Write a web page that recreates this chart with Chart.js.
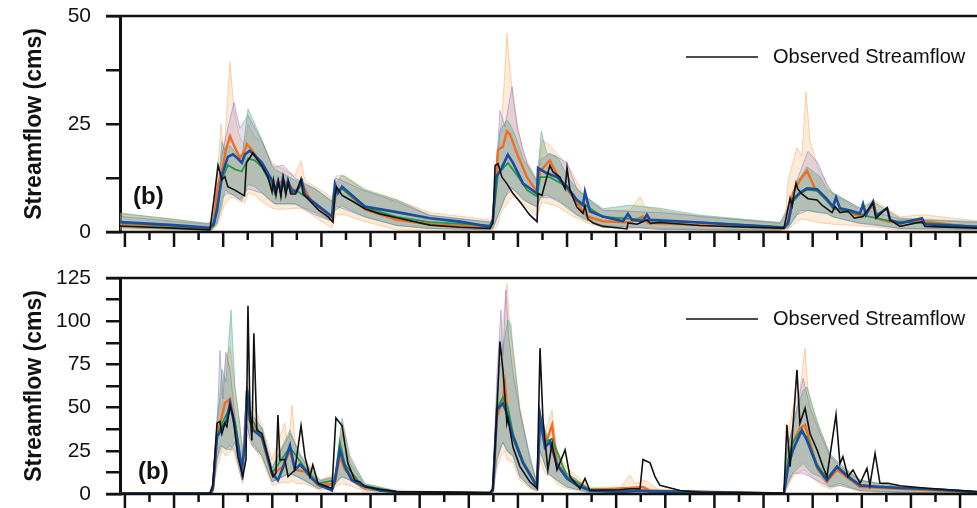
<!DOCTYPE html>
<html>
<head>
<meta charset="utf-8">
<script src="https://cdn.jsdelivr.net/npm/chart.js@4.4.1/dist/chart.umd.min.js"></script>
<style>
  html, body { margin: 0; padding: 0; background: #fff; }
  #wrap { position: relative; width: 977px; height: 508px; overflow: hidden; }
  .panel { position: absolute; left: 0; width: 977px; }
  #top-panel { top: 0; height: 254px; }
  #bottom-panel { top: 262px; height: 246px; }
</style>
</head>
<body>
<div id="wrap">
  <div class="panel" id="top-panel"><canvas id="top-chart"></canvas></div>
  <div class="panel" id="bottom-panel"><canvas id="bottom-chart"></canvas></div>
</div>
<script>
// x is in months from the first tick, 35 monthly ticks (every other one long)
const monthTicks = 35;
const xMin = -0.2;
const xMax = 34.69;

// ---------- top panel (0 - 50 cms) ----------
// lines: [month, cms]
const obsTop = [[-0.2,1.4],[2,0.9],[3.46,0.5],[3.62,7.4],[3.79,15.4],[3.95,12.1],[4.07,12.8],[4.19,10.5],[4.48,9.7],[4.80,8.6],[4.87,8.4],[4.95,16],[5.21,18.3],[5.58,15.2],[5.82,12.8],[5.99,9.3],[6.05,12],[6.15,8.5],[6.25,11.8],[6.35,8.2],[6.45,12.5],[6.55,8.6],[6.65,11.5],[6.75,8.8],[6.95,8.8],[7.17,12.3],[7.25,8.8],[7.40,8.0],[7.61,6.7],[7.9,5.0],[8.27,3.5],[8.47,2.3],[8.55,8.5],[8.62,10.4],[8.84,8.5],[9.3,7.0],[9.77,5.4],[10.38,4.2],[11.07,3.3],[12.42,1.6],[13.64,1.1],[14.86,0.8],[14.98,2],[15.07,15.4],[15.19,15.8],[15.35,12.7],[15.55,11.2],[15.80,8.9],[16.08,7.0],[16.49,3.9],[16.78,2.4],[16.82,8.9],[16.98,8.5],[17.30,15.4],[17.43,13.9],[17.71,12.7],[17.92,10.0],[18.00,14.9],[18.12,9.7],[18.40,5.8],[18.65,4.3],[18.73,6.0],[18.85,3.0],[19.06,2.1],[19.46,1.3],[20.03,1.0],[20.44,0.7],[20.48,2.1],[20.85,1.8],[21.25,2.8],[21.40,2.0],[21.78,2.2],[23.41,1.5],[25.45,1.1],[26.83,0.9],[27.08,7.8],[27.16,6.1],[27.32,11.3],[27.40,9.9],[27.56,8.8],[27.81,7.7],[28.18,7.4],[28.38,6.2],[28.79,4.5],[28.91,5.9],[29.11,4.5],[29.44,4.8],[29.70,3.2],[30.05,3.6],[30.46,6.8],[30.58,3.2],[31.03,5.6],[31.15,2.8],[31.56,1.3],[32.45,2.4],[32.57,1.3],[34.69,0.9]];
const blueTop = [[-0.2,2.3],[2,1.6],[3.46,1.0],[3.62,2],[3.75,5],[3.95,13.1],[4.19,17.4],[4.40,18],[4.60,17],[4.76,16],[4.89,18],[5.09,18.8],[5.29,17.7],[5.58,16],[5.82,13.6],[5.99,11.9],[6.11,9.3],[6.23,11.7],[6.35,9.3],[6.43,12.4],[6.55,9.6],[6.64,11.9],[6.80,9.3],[7.0,9.5],[7.21,11.7],[7.33,8.6],[7.61,7.2],[8.43,3.6],[8.55,11],[8.67,9],[8.84,10.5],[9.77,5.9],[11.07,4.6],[12.42,3.2],[13.64,2.4],[14.86,1.2],[14.98,2.8],[15.11,12.7],[15.35,14.9],[15.59,17.9],[15.80,16],[16.21,11.2],[16.78,8.9],[16.82,14.8],[17.18,13.6],[17.59,12.7],[18.0,10.5],[18.40,7.4],[18.65,6.2],[18.73,9.3],[18.93,4.8],[19.46,3.6],[20.28,2.5],[20.48,4.2],[20.64,2.8],[21.09,2.5],[21.25,4.0],[21.38,2.8],[21.78,2.7],[23.41,2.2],[25.45,1.5],[26.83,1.0],[27.0,2],[27.20,7.6],[27.48,9.1],[27.77,10.1],[28.18,9.9],[28.58,7.6],[28.83,5.9],[28.95,8.0],[29.11,5.5],[29.52,5],[29.93,4.3],[30.05,6.5],[30.17,4],[30.46,7.0],[30.58,3.8],[31.03,5.5],[31.15,2.8],[31.56,2.0],[32.45,3.2],[32.57,1.8],[33.59,1.5],[34.69,1.2]];
const orangeTop = [[-0.2,1.9],[2,1.3],[3.46,0.8],[3.62,1.5],[3.71,8],[3.79,11],[3.95,14],[4.11,19],[4.28,22.2],[4.44,20],[4.68,17.2],[4.85,18.5],[4.97,20.3],[5.17,19],[5.37,17.2],[5.58,15.5],[5.82,13],[5.99,11],[6.11,9.5],[6.23,11.2],[6.43,11.8],[6.64,11.2],[6.92,9.5],[7.21,11],[7.61,7.0],[8.43,3.2],[8.59,9],[8.84,10.2],[9.77,5.2],[11.07,2.8],[12.42,1.8],[14.86,1.0],[14.98,2.5],[15.19,19],[15.39,19.8],[15.55,23.3],[15.68,22.6],[15.96,18.2],[16.37,12.7],[16.78,9.3],[16.90,14],[17.30,16.6],[17.71,11.9],[18.12,9],[18.81,3.6],[19.46,2.5],[20.56,2.2],[21.09,3.6],[21.3,2.0],[21.78,2.0],[23.41,1.6],[26.83,0.8],[27.0,3],[27.20,9],[27.48,12],[27.77,14.2],[28.09,10.1],[28.58,7.5],[28.83,5.5],[29.52,4.5],[29.93,3.5],[30.46,6],[30.6,3.2],[31.15,2.3],[32.45,2.5],[34.69,1.0]];
const greenTop = [[-0.2,2.1],[2,1.4],[3.46,0.9],[3.62,1.5],[3.75,6],[3.95,12.1],[4.19,15.5],[4.48,14.5],[4.76,14],[5.01,17],[5.29,16.6],[5.58,15],[5.82,12.5],[5.99,10.5],[6.5,10.5],[7.0,9.5],[7.61,7.2],[8.43,3.5],[8.59,9],[8.84,10],[9.77,5.7],[11.07,3.5],[12.42,2.3],[14.86,1.5],[14.98,2.6],[15.19,13.4],[15.59,16],[15.96,13.2],[16.37,9.7],[16.78,8.2],[16.90,12.7],[17.30,12.7],[17.83,11],[18.40,7.5],[19.46,3.5],[21.78,2.6],[23.41,2.2],[26.83,1.2],[27.0,2.5],[27.20,7],[27.48,8.8],[27.77,9.8],[28.18,9.5],[28.58,7.2],[28.83,5.5],[29.93,4.0],[31.15,2.5],[34.69,1.3]];
// bands: [month, low, high]
const peachBandTop = [[-0.2,0.5,4.2],[2.0,0.3,3.0],[3.34,0.2,2.0],[3.54,0.3,2.5],[3.75,1.5,12],[3.91,4,25],[4.03,6,18],[4.28,8,39.4],[4.44,8,28],[4.68,7,22],[4.89,6.8,20],[5.01,9,25],[5.29,8.5,22],[5.58,7,21],[5.99,5.5,16],[6.31,5.2,15],[6.92,5.5,13],[7.17,5.5,16.5],[7.33,5,12],[7.74,3.5,10.5],[8.43,0.9,8],[8.59,4,13],[8.96,4,13],[9.77,2.4,10],[11.07,0.5,7.5],[12.42,0.3,4.5],[14.86,0.2,2.8],[14.98,0.3,3],[15.15,1.3,18.2],[15.35,5,25.9],[15.47,5.8,37.5],[15.55,6.5,46],[15.68,7.5,37.5],[15.88,8.2,27.5],[16.21,6.5,18.2],[16.78,3.6,12],[16.98,6.9,21.3],[17.30,6.5,20.1],[17.59,6,18.2],[18.12,4,14.5],[18.81,2.1,7.4],[19.46,1.0,5],[20.56,0.8,5],[20.97,1,8.2],[21.17,0.8,5.8],[21.78,0.6,5],[23.41,0.4,3.5],[26.67,0.2,2.2],[26.87,0.3,2.5],[27.0,0.5,12],[27.36,2.5,19.5],[27.56,3,17.6],[27.73,2.8,32.5],[27.89,2.7,21.2],[28.22,2.2,14.8],[28.83,1.8,8.6],[29.93,1.4,5.1],[30.46,1.2,7.5],[31.56,0.5,3.5],[32.45,0.5,4],[34.69,0.3,2.6]];
const purpleBandTop = [[-0.2,1.0,3.6],[3.34,0.4,1.8],[3.54,0.5,2],[3.75,2,8],[3.95,8,18],[4.19,9,24],[4.44,8.5,30],[4.68,7.5,24],[5.01,10,27],[5.58,9,21],[5.99,7,15.5],[6.11,6.5,15],[6.43,6.5,15.5],[6.92,6.5,12.5],[7.74,4,10],[8.43,2.5,7],[8.59,6,12.5],[9.77,3.5,9.5],[11.07,1.5,7],[12.42,0.8,3.8],[14.86,0.5,2.3],[14.98,0.8,3],[15.27,5,28.1],[15.47,8,24.4],[15.76,10,33.6],[16.0,9,23.6],[16.37,7,15.9],[16.78,5.8,11.2],[16.90,8,16.6],[17.30,8,18.2],[18.0,6,16.1],[18.40,4,10],[19.46,1.5,5],[21.78,0.6,4.5],[26.67,0.4,2.0],[27.0,1,6],[27.36,4,12],[27.81,5,18.7],[28.22,4.5,15.9],[28.58,4.3,11],[28.83,3.5,9],[29.93,2,5.5],[31.56,0.8,3],[34.69,0.6,2.2]];
const greenBandTop = [[-0.2,1.0,4.4],[2.0,0.6,2.9],[3.34,0.4,2.0],[3.54,0.5,2.2],[3.75,2,8],[3.95,6,21],[4.07,9.7,19],[4.28,9,20],[4.68,7.5,17],[4.76,7.2,17],[5.01,11,28.5],[5.29,10.5,25],[5.58,9,21.3],[5.99,7,15.2],[6.11,6.5,14.5],[6.92,6.5,12],[7.74,4.5,10],[8.43,2.5,7.2],[8.55,5,11],[8.84,6,13.2],[9.77,3.5,9.7],[11.07,1.5,7.4],[12.42,0.8,3.9],[14.86,0.5,2.3],[14.98,0.8,3],[15.27,5,23.6],[15.55,9,25.9],[15.68,10.5,25],[15.96,9,21.3],[16.21,7.4,17],[16.78,5.8,12],[16.95,8.2,23.3],[17.18,8.5,18.2],[17.59,7.5,17.5],[18.12,5,12],[18.65,3,8.5],[19.46,1.5,5.4],[20.56,1.2,6.2],[21.78,0.8,5.5],[23.41,0.6,3.9],[26.67,0.4,2.2],[27.0,1,5],[27.36,4,12],[27.48,5,12.5],[27.77,5,15.1],[28.30,4.5,12.8],[28.58,4.3,10],[28.83,3.5,9],[29.93,2,5.5],[30.46,1.8,7],[31.56,0.8,3.2],[34.69,0.6,2.4]];

// ---------- bottom panel (0 - 125 cms) ----------
const obsBot = [[-0.2,0.3],[3.46,0.3],[3.58,5],[3.75,41],[3.87,42],[3.95,35],[4.07,41],[4.15,39],[4.28,51.5],[4.40,45],[4.60,21.6],[4.80,10],[4.93,20],[5.01,109],[5.09,49],[5.17,31],[5.25,93],[5.37,37],[5.58,35],[5.82,21.6],[6.03,10],[6.15,12],[6.23,45.7],[6.31,19.6],[6.51,20],[6.64,10],[6.92,13.9],[7.17,39.5],[7.33,21.6],[7.53,10],[7.65,16.8],[7.86,6.2],[8.43,3.3],[8.59,44],[8.84,39.5],[9.08,17.7],[9.36,8],[9.57,7],[9.77,4.2],[10.38,2.7],[11.07,1.4],[14.86,0.8],[14.98,3],[15.15,50],[15.27,88.2],[15.39,71.8],[15.55,41],[15.59,44],[15.80,27],[16.08,16],[16.49,7],[16.78,3.3],[16.90,84.4],[17.02,43],[17.22,13.9],[17.39,29.5],[17.59,13.9],[17.92,25.5],[18.12,10],[18.53,3],[18.73,9],[18.93,2],[20.15,2.5],[20.56,3],[20.97,3],[21.09,20],[21.38,18],[21.58,10],[21.78,5],[22.6,2],[23.41,1],[26.83,0.5],[26.95,40],[27.08,15.8],[27.36,71.8],[27.48,40.9],[27.69,49.7],[27.89,35],[28.18,25.5],[28.42,15.8],[28.58,10],[28.95,46],[29.11,17.6],[29.23,21.6],[29.44,10],[29.64,13.9],[29.93,6.2],[30.21,14.8],[30.33,5.2],[30.54,23.5],[30.74,6.2],[31.07,6.2],[31.56,4.8],[32.65,3.3],[34.69,1.4]];
const blueBot = [[-0.2,0.3],[3.46,0.3],[3.58,3],[3.75,33],[3.99,39],[4.15,43],[4.28,52.5],[4.48,39],[4.76,14],[4.89,30],[4.97,60],[5.09,43],[5.21,37],[5.58,33],[5.99,12],[6.23,8],[6.43,15],[6.72,28],[6.92,14],[7.13,17],[7.33,14],[7.61,9],[7.94,5],[8.43,2],[8.55,8],[8.75,25.5],[8.96,15.6],[9.24,8],[9.65,5],[10.38,2],[11.07,1.2],[14.86,0.5],[14.98,2],[15.15,49],[15.39,52.5],[15.55,46.7],[15.80,33],[16.21,17.8],[16.78,4.2],[16.90,44.7],[17.10,27],[17.30,30.3],[17.59,17],[18.0,9],[18.40,5],[18.93,2],[20.15,1.2],[20.97,2],[21.38,1.5],[26.83,0.3],[27.0,15.8],[27.20,25.5],[27.56,37],[27.77,31],[28.18,15.8],[28.58,8],[28.99,15.8],[29.44,10],[29.93,5],[30.62,4.2],[31.56,3.5],[32.65,3],[34.69,1]];
const orangeBot = [[-0.2,0.2],[3.46,0.2],[3.58,3],[3.75,35],[3.95,45],[4.07,52.5],[4.28,55],[4.48,40],[4.76,15],[4.89,30],[4.97,57],[5.09,42],[5.58,32],[5.99,11],[6.43,16],[6.72,25],[6.92,14],[7.33,13],[7.86,5],[8.55,6],[8.75,22],[8.96,14],[9.65,4],[11.07,1],[14.86,0.4],[14.98,2],[15.15,45],[15.39,55],[15.47,64],[15.59,45],[15.80,33],[16.21,18],[16.78,4],[16.90,43],[17.10,28],[17.39,40],[17.59,18],[18.0,10],[18.93,2.5],[20.56,3.5],[21.09,4],[21.38,2],[26.83,0.3],[27.0,18],[27.20,30],[27.48,38],[27.69,40],[27.89,30],[28.18,15],[28.58,7],[28.99,14],[29.93,4],[31.56,3],[34.69,0.8]];
const greenBot = [[-0.2,0.3],[3.46,0.3],[3.58,3],[3.75,34],[3.99,42],[4.28,50],[4.48,42],[4.76,15],[4.89,30],[4.97,62],[5.09,45],[5.58,33],[5.99,12],[6.72,27],[7.33,15],[7.86,6],[8.55,8],[8.75,30],[8.96,17],[9.65,5],[11.07,1.2],[14.86,0.5],[14.98,2],[15.15,50],[15.39,56],[15.59,50],[15.80,35],[16.21,19],[16.78,5],[16.90,46],[17.10,30],[17.39,32],[18.0,10],[18.93,2.5],[21.38,1.8],[26.83,0.4],[27.0,20],[27.20,30],[27.48,36],[27.77,33],[28.18,17],[28.58,9],[28.99,16],[29.93,5],[31.56,3.5],[34.69,1]];
const peachBandBot = [[-0.2,0.1,0.8],[3.46,0.1,0.8],[3.58,0.5,8],[3.75,15,45],[3.95,25,60],[4.11,22,78],[4.28,24,85],[4.40,26,70],[4.68,12,40],[4.80,6,25],[4.97,35,65],[5.09,30,55],[5.58,20,40],[5.99,5,20],[6.51,7,41],[6.64,6,25],[6.80,8,51.5],[6.96,6,25],[7.33,6,20],[7.94,2,8],[8.55,4,12],[8.84,6,42],[9.16,5,20],[9.77,1.5,6],[11.07,0.3,2],[14.86,0.1,0.8],[14.98,0.5,5],[15.15,15,60],[15.31,22,90],[15.47,25,110],[15.55,20,122],[15.68,19,95],[15.80,18,85],[16.08,8,50],[16.49,3,20],[16.78,1.5,6],[16.90,20,50],[17.10,12,35],[17.39,10,48.6],[17.59,6,25],[18.0,3,15],[18.93,0.6,4],[20.15,0.3,3],[20.56,0.5,11],[20.77,0.4,6],[21.17,0.5,8],[21.78,0.3,2],[26.83,0,0.6],[26.95,3,30],[27.20,10,50],[27.48,13,60],[27.69,14,84.3],[27.81,12,60],[28.09,8,45],[28.38,5,35],[28.70,3,22],[29.11,5,18],[29.93,1.5,8],[30.74,1,5],[31.56,0.6,4],[34.69,0.2,1.5]];
const purpleBandBot = [[-0.2,0.2,0.6],[3.46,0.2,0.6],[3.58,0.8,5],[3.75,20,40],[3.87,28,83],[3.99,27,55],[4.11,26,82],[4.28,28,72],[4.48,25,45],[4.76,8,18],[4.97,40,62],[5.09,32,48],[5.58,22,38],[5.99,7,15],[6.72,12,35],[7.33,8,18],[7.86,3,7],[8.55,6,10],[8.84,10,35],[9.16,8,18],[9.77,2.5,5],[11.07,0.5,1.5],[14.86,0.2,0.6],[14.98,1,4],[15.15,20,70],[15.31,28,106.5],[15.39,30,80],[15.51,26,118],[15.63,24,90],[15.80,22,70],[16.08,10,48],[16.49,4,22],[16.78,2,6],[16.90,25,46],[17.22,12,30],[17.59,8,22],[18.0,4,12],[18.93,1,3],[21.38,0.5,2],[26.83,0.1,0.4],[26.95,5,25],[27.20,12,40],[27.61,12,67],[27.89,10,50],[28.30,7,35],[28.70,4,22],[29.11,5,16],[29.93,2,8],[31.56,1,4],[34.69,0.3,1.2]];
const greenBandBot = [[-0.2,0.2,0.6],[3.46,0.2,0.6],[3.58,1,5],[3.75,20,40],[3.95,28,72],[4.11,26,65],[4.32,25.5,106.5],[4.48,30,62],[4.68,15,40],[4.80,8,20],[4.97,40,62],[5.17,28,45],[5.58,22,38],[5.99,7,15],[6.72,12,37],[7.13,9,22],[7.53,6,15],[7.94,3,8],[8.55,6,10],[8.84,10,43.8],[9.16,8,22],[9.77,2.5,6],[11.07,0.5,1.6],[14.86,0.2,0.6],[14.98,1,4],[15.15,20,60],[15.39,30,85],[15.59,24.3,100.7],[15.72,23,98],[15.80,22,83.5],[16.08,10,48],[16.49,4,20],[16.78,2,6],[16.90,25,47],[17.22,12,32],[17.59,8,22],[18.0,4,12],[18.93,1,3],[21.38,0.5,2.2],[26.83,0.1,0.5],[26.95,5,25],[27.20,12,40],[27.48,16,55],[27.61,17.6,60],[27.77,15,62],[27.97,12,52],[28.30,10,37],[28.70,4.2,23.5],[29.11,6,17],[29.93,2,8],[31.56,1,4.2],[34.69,0.3,1.5]];

const FONT = "'Liberation Sans', Arial, Helvetica, sans-serif";
const INK = '#111111';

function toPoints(pairs) {
    return pairs.map(p => ({ x: p[0], y: p[1] }));
}

// A band is two datasets: the low edge, and the high edge filled down to it
function bandDatasets(band, fillColor, edgeColor, order) {
    const common = { borderColor: edgeColor, borderWidth: 0.8, pointRadius: 0, order: order };
    return [
        Object.assign({ label: 'low', data: band.map(b => ({ x: b[0], y: b[1] })), fill: false }, common),
        Object.assign({ label: 'high', data: band.map(b => ({ x: b[0], y: b[2] })), fill: '-1', backgroundColor: fillColor }, common)
    ];
}

function lineDataset(label, pairs, color, width, order) {
    return {
        label: label,
        data: toPoints(pairs),
        borderColor: color,
        borderWidth: width,
        pointRadius: 0,
        fill: false,
        order: order
    };
}

// Frame lines, monthly ticks, panel tag and the one-entry legend
const framePlugin = {
    id: 'frame',
    afterDraw(chart, args, opts) {
        const { ctx, chartArea: area } = chart;
        const x = chart.scales.x;
        ctx.save();
        ctx.strokeStyle = INK;
        ctx.lineWidth = 2.5;
        ctx.beginPath();
        ctx.moveTo(106, area.top);
        ctx.lineTo(area.right, area.top);
        ctx.moveTo(106, area.bottom);
        ctx.lineTo(area.right, area.bottom);
        for (let i = 0; i < monthTicks; i++) {
            const px = x.getPixelForValue(i);
            const len = i % 2 === 0 ? 15 : 8;
            ctx.moveTo(px, area.bottom);
            ctx.lineTo(px, area.bottom + len);
        }
        ctx.stroke();

        // panel tag
        ctx.fillStyle = INK;
        ctx.font = 'bold 24px ' + FONT;
        ctx.textAlign = 'left';
        ctx.textBaseline = 'middle';
        ctx.fillText(opts.tag, opts.tagX, area.bottom - opts.tagUp);

        // legend
        const ly = area.top + 41;
        ctx.lineWidth = 1.5;
        ctx.beginPath();
        ctx.moveTo(686, ly);
        ctx.lineTo(758, ly);
        ctx.stroke();
        ctx.font = '20px ' + FONT;
        ctx.fillText(chart.data.datasets[0].label, 773, ly);
        ctx.restore();
    }
};

function makePanel(canvasId, yMax, lines, bands, tagOpts, bottomPad) {
    const datasets = [
        lineDataset('Observed Streamflow', lines.obs, INK, 1.6, 0),
        lineDataset('Blue', lines.blue, '#1a4d9e', 2.6, 1),
        lineDataset('Green', lines.green, '#22994a', 1.8, 2),
        lineDataset('Orange', lines.orange, '#f26d1f', 2.4, 3)
    ].concat(
        bandDatasets(bands.green, 'rgba(70,150,110,0.30)', 'rgba(50,160,130,0.55)', 10),
        bandDatasets(bands.purple, 'rgba(150,125,200,0.25)', 'rgba(125,95,200,0.55)', 20),
        bandDatasets(bands.peach, 'rgba(250,195,140,0.35)', 'rgba(245,165,95,0.6)', 30)
    );

    return new Chart(document.getElementById(canvasId).getContext('2d'), {
        type: 'line',
        data: { datasets: datasets },
        options: {
            responsive: true,
            maintainAspectRatio: false,
            animation: false,
            events: [],
            layout: { padding: { top: 16, bottom: bottomPad, left: 0, right: 0 } },
            plugins: {
                legend: { display: false },
                tooltip: { enabled: false },
                frame: tagOpts
            },
            elements: { line: { tension: 0 } },
            scales: {
                x: {
                    type: 'linear',
                    min: xMin,
                    max: xMax,
                    display: false
                },
                y: {
                    min: 0,
                    max: yMax,
                    afterFit: function(scale) {
                        // fixed axis width, and no extra room asked for the end labels
                        scale.width = 120;
                        scale.paddingTop = 0;
                        scale.paddingBottom = 0;
                    },
                    ticks: {
                        stepSize: 12.5,
                        autoSkip: false,
                        padding: 15,
                        color: INK,
                        font: { family: FONT, size: 21 },
                        callback: function(value) {
                            return value % 25 === 0 ? String(value) : '';
                        }
                    },
                    grid: {
                        drawOnChartArea: false,
                        tickLength: 14,
                        color: INK,
                        lineWidth: 2.5
                    },
                    border: { display: true, color: INK, width: 3 },
                    title: {
                        display: true,
                        text: 'Streamflow (cms)',
                        color: INK,
                        font: { family: FONT, size: 23, weight: 'bold' },
                        padding: { top: 21, bottom: 0 }
                    }
                }
            }
        },
        plugins: [framePlugin]
    });
}

window.addEventListener('load', () => {
    makePanel('top-chart', 50,
        { obs: obsTop, blue: blueTop, green: greenTop, orange: orangeTop },
        { peach: peachBandTop, purple: purpleBandTop, green: greenBandTop },
        { tag: '(b)', tagX: 133, tagUp: 35 }, 22);
    makePanel('bottom-chart', 125,
        { obs: obsBot, blue: blueBot, green: greenBot, orange: orangeBot },
        { peach: peachBandBot, purple: purpleBandBot, green: greenBandBot },
        { tag: '(b)', tagX: 138, tagUp: 22 }, 14);
});
</script>
</body>
</html>
